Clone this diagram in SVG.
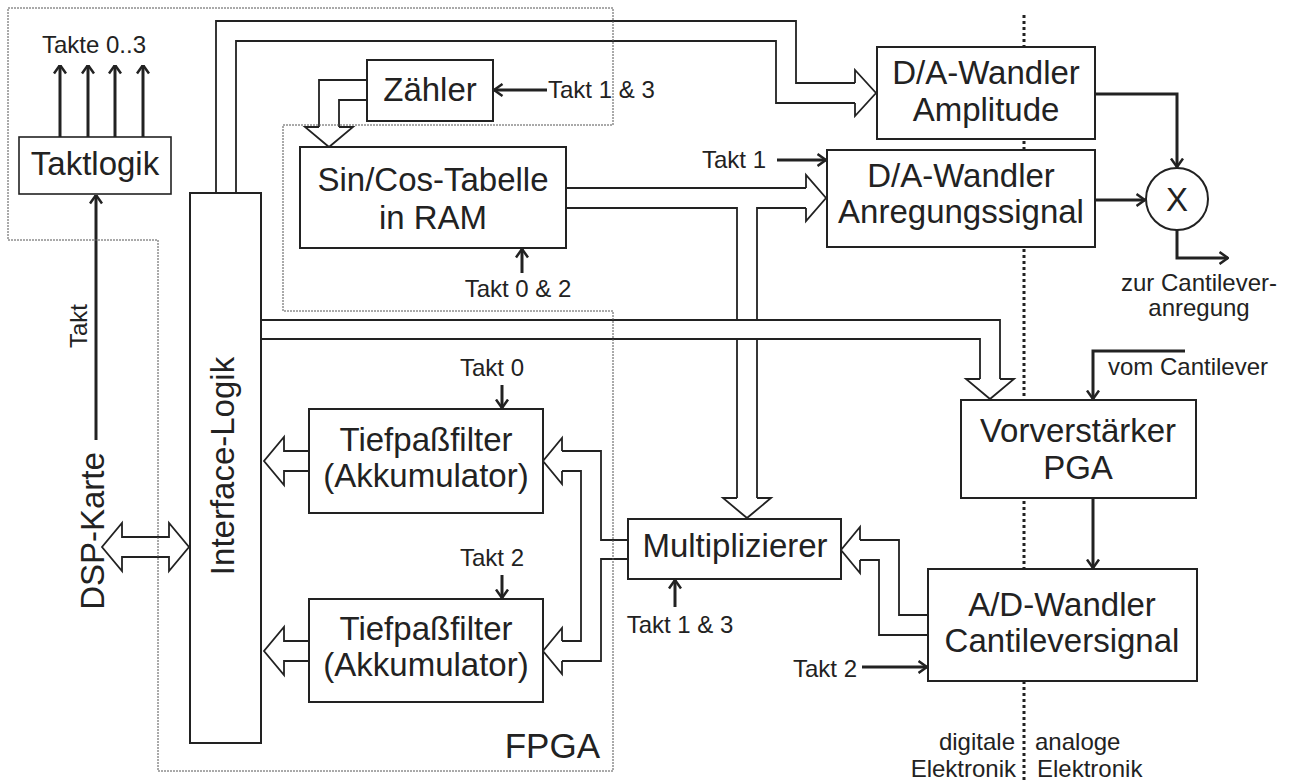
<svg xmlns="http://www.w3.org/2000/svg" width="1294" height="783" viewBox="0 0 1294 783">
<style>
text{font-family:"Liberation Sans",Arial,Helvetica,sans-serif;fill:#222}
.big{font-size:33px;text-anchor:middle}
.sm{font-size:24px}
.box{fill:#fff;stroke:#222;stroke-width:2}
.bus{fill:none;stroke:#222;stroke-width:1.8}
.head{fill:#fff;stroke:#222;stroke-width:1.8;stroke-linejoin:miter}
.sig{fill:none;stroke:#222;stroke-width:3;marker-end:url(#ah)}
.fpga{fill:none;stroke:#555;stroke-width:1;stroke-dasharray:2 1}
.sep{fill:none;stroke:#222;stroke-width:3;stroke-dasharray:3 3}
</style>
<defs>
<marker id="ah" viewBox="0 0 10 14" refX="9.5" refY="7" markerWidth="10" markerHeight="14" markerUnits="userSpaceOnUse" orient="auto">
<path d="M1,1 L9.5,7 L1,13" fill="none" stroke="#222" stroke-width="2.5"/>
</marker>
</defs>
<rect width="1294" height="783" fill="#fff"/>
<line class="sep" x1="1024" y1="15" x2="1024" y2="783"/>

<g id="connectors">
<!-- Interface -> D/A Amplitude -->
<path class="bus" d="M216,193 V21 H796 V83 H855"/>
<path class="bus" d="M236,193 V41 H776 V103 H855"/>
<path class="head" d="M855,83 V70 L876,93 L855,116 V103"/>
<!-- Zaehler -> Sin/Cos -->
<path class="bus" d="M367,80 H319 V127"/>
<path class="bus" d="M367,100 H339 V127"/>
<path class="head" d="M319,127 H305 L329,147 L353,127 H339"/>
<!-- Sin/Cos -> D/A Anregung & Multiplizierer -->
<path class="bus" d="M566,188 H806"/>
<path class="bus" d="M566,208 H737 V320"/>
<path class="bus" d="M806,208 H757 V320"/>
<path class="bus" d="M737,339 V498 M757,339 V498"/>
<path class="head" d="M806,188 V175 L826,198 L806,221 V208"/>
<path class="head" d="M737,498 H723 L747,518 L771,498 H757"/>
<!-- Interface -> Vorverstaerker -->
<path class="bus" d="M261,320 H1000 V379"/>
<path class="bus" d="M261,339 H980 V379"/>
<path class="head" d="M980,379 H966 L990,399 L1014,379 H1000"/>
<!-- A/D -> Multiplizierer -->
<path class="bus" d="M928,615 H899 V540 H860"/>
<path class="bus" d="M928,635 H879 V560 H860"/>
<path class="head" d="M860,540 V527 L841,550 L860,573 V560"/>
<!-- Multiplizierer -> Tiefpassfilter -->
<path class="bus" d="M628,540 H601 V451 H562"/>
<path class="bus" d="M628,559 H601 V661 H562"/>
<path class="bus" d="M562,471 H581 V641 H562"/>
<path class="head" d="M562,451 V438 L543,461 L562,484 V471"/>
<path class="head" d="M562,641 V628 L543,651 L562,674 V661"/>
<!-- Tiefpassfilter -> Interface -->
<path class="head" d="M309,451 H284 V437 L264,461 L284,485 V471 H309"/>
<path class="head" d="M309,641 H284 V627 L264,651 L284,675 V661 H309"/>
<!-- DSP <-> Interface -->
<path class="head" d="M122,537 H169 V523 L189,547 L169,571 V557 H122 V571 L102,547 L122,523 Z"/>
<!-- signal arrows -->
<line class="sig" x1="60" y1="137" x2="60" y2="65"/>
<line class="sig" x1="88" y1="137" x2="88" y2="65"/>
<line class="sig" x1="115" y1="137" x2="115" y2="65"/>
<line class="sig" x1="143" y1="137" x2="143" y2="65"/>
<line class="sig" x1="96" y1="440" x2="96" y2="195"/>
<line class="sig" x1="547" y1="90" x2="494" y2="90"/>
<line class="sig" x1="522" y1="273" x2="522" y2="249"/>
<line class="sig" x1="777" y1="160" x2="826" y2="160"/>
<path class="sig" d="M1095,94 H1177 V167"/>
<path class="sig" d="M1095,200 H1145"/>
<path class="sig" d="M1177,230 V258 H1228"/>
<path class="sig" d="M1185,351 H1093 V399"/>
<line class="sig" x1="1093" y1="498" x2="1093" y2="568"/>
<line class="sig" x1="862" y1="667" x2="927" y2="667"/>
<line class="sig" x1="675" y1="607" x2="675" y2="580"/>
<line class="sig" x1="502" y1="385" x2="502" y2="408"/>
<line class="sig" x1="502" y1="575" x2="502" y2="598"/>
</g>

<g id="fpga">
<path class="fpga" d="M8,8 H613 V125 H283 V311 H613 V771 H158 V240 H8 Z"/>
<text x="600" y="758" style="font-size:35px;text-anchor:end">FPGA</text>
</g>

<g id="taktlogik">
<rect class="box" x="19" y="137" width="152" height="57" style="stroke-width:1.6"/>
<text class="big" x="95" y="175">Taktlogik</text>
</g>
<text class="sm" x="94" y="53" text-anchor="middle">Takte 0..3</text>
<text class="sm" transform="translate(87,326) rotate(-90)" text-anchor="middle">Takt</text>
<text class="big" transform="translate(104,531) rotate(-90)">DSP-Karte</text>

<g id="interface">
<rect class="box" x="190" y="193" width="71" height="550"/>
<text class="big" transform="translate(234,466) rotate(-90)">Interface-Logik</text>
</g>

<g id="zaehler">
<rect class="box" x="367" y="60" width="126" height="61"/>
<text class="big" x="430" y="101">Zähler</text>
</g>
<text class="sm" x="548" y="98">Takt 1 &amp; 3</text>

<g id="sincos">
<rect class="box" x="300" y="147" width="266" height="101"/>
<text class="big" x="433" y="191">Sin/Cos-Tabelle</text>
<text class="big" x="433" y="229">in RAM</text>
</g>
<text class="sm" x="518" y="297" text-anchor="middle">Takt 0 &amp; 2</text>

<g id="da-amplitude">
<rect class="box" x="877" y="47" width="218" height="92"/>
<text class="big" x="986" y="84">D/A-Wandler</text>
<text class="big" x="986" y="121">Amplitude</text>
</g>

<g id="da-anregung">
<rect class="box" x="827" y="150" width="268" height="97"/>
<text class="big" x="961" y="187">D/A-Wandler</text>
<text class="big" x="961" y="223">Anregungssignal</text>
</g>
<text class="sm" x="702" y="168">Takt 1</text>

<g id="mixer">
<circle cx="1177" cy="199" r="31" fill="#fff" stroke="#222" stroke-width="2"/>
<text class="big" x="1177" y="211">X</text>
</g>
<text class="sm" x="1199" y="291" text-anchor="middle">zur Cantilever-</text>
<text class="sm" x="1199" y="316" text-anchor="middle">anregung</text>

<text class="sm" x="1108" y="375">vom Cantilever</text>

<g id="vorverstaerker">
<rect class="box" x="961" y="400" width="235" height="98"/>
<text class="big" x="1078" y="442">Vorverstärker</text>
<text class="big" x="1078" y="479">PGA</text>
</g>

<g id="ad-wandler">
<rect class="box" x="928" y="569" width="269" height="112"/>
<text class="big" x="1062" y="616">A/D-Wandler</text>
<text class="big" x="1062" y="652">Cantileversignal</text>
</g>
<text class="sm" x="857" y="677" text-anchor="end">Takt 2</text>

<g id="multiplizierer">
<rect class="box" x="628" y="519" width="213" height="60"/>
<text class="big" x="735" y="557">Multiplizierer</text>
</g>
<text class="sm" x="680" y="633" text-anchor="middle">Takt 1 &amp; 3</text>

<g id="tiefpass1">
<rect class="box" x="309" y="409" width="234" height="104"/>
<text class="big" x="426" y="451">Tiefpaßfilter</text>
<text class="big" x="426" y="487">(Akkumulator)</text>
</g>
<text class="sm" x="492" y="376" text-anchor="middle">Takt 0</text>

<g id="tiefpass2">
<rect class="box" x="309" y="599" width="234" height="103"/>
<text class="big" x="426" y="640">Tiefpaßfilter</text>
<text class="big" x="426" y="676">(Akkumulator)</text>
</g>
<text class="sm" x="492" y="566" text-anchor="middle">Takt 2</text>

<g id="domain-labels">
<text class="sm" x="1015" y="750" text-anchor="end">digitale</text>
<text class="sm" x="1016" y="777" text-anchor="end">Elektronik</text>
<text class="sm" x="1035" y="750">analoge</text>
<text class="sm" x="1037" y="777">Elektronik</text>
</g>
</svg>
